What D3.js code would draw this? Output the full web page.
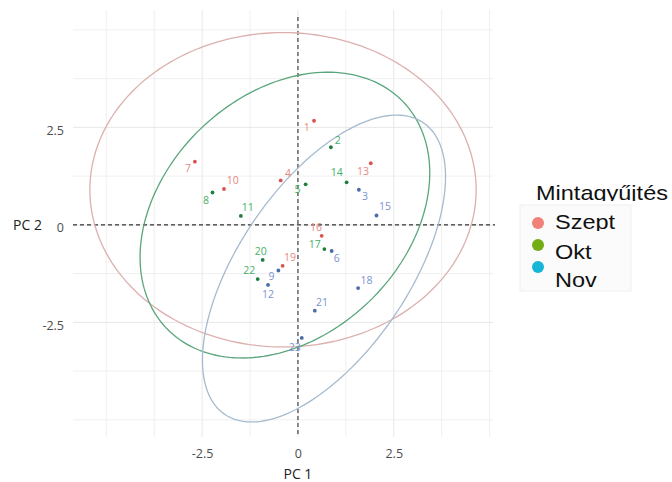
<!DOCTYPE html>
<html>
<head>
<meta charset="utf-8">
<script src="https://cdn.jsdelivr.net/npm/d3@7"></script>
<style>
body{margin:0;background:#fff;}
</style>
</head>
<body>
<div id="grafico"></div>
<script>
const WIDTH = 672;
const HEIGHT = 482;

// PCA scores of the samples
const sampleIds = [1, 4, 7, 10, 13, 16, 19, 2, 5, 8, 11, 14, 17, 20, 22, 3, 6, 9, 12, 15, 18, 21, 23];
const sampleGroup = ["Szept","Szept","Szept","Szept","Szept","Szept","Szept",
    "Okt","Okt","Okt","Okt","Okt","Okt","Okt","Okt",
    "Nov","Nov","Nov","Nov","Nov","Nov","Nov","Nov"];
const pc1 = [0.42, -0.45, -2.69, -1.93, 1.90, 0.62, -0.40,
    0.86, 0.20, -2.23, -1.49, 1.27, 0.69, -0.92, -1.05,
    1.59, 0.88, -0.51, -0.78, 2.05, 1.57, 0.44, 0.10];
const pc2 = [2.67, 1.14, 1.62, 0.92, 1.58, -0.28, -1.05,
    1.99, 1.04, 0.83, 0.23, 1.09, -0.62, -0.90, -1.39,
    0.90, -0.67, -1.17, -1.54, 0.24, -1.62, -2.20, -2.90];
// where the (repelled) number labels ended up
const labelPc1 = [0.23, -0.26, -2.87, -1.70, 1.70, 0.47, -0.21,
    1.04, -0.01, -2.40, -1.31, 1.01, 0.44, -0.97, -1.27,
    1.75, 1.01, -0.69, -0.78, 2.27, 1.79, 0.63, -0.08];
const labelPc2 = [2.49, 1.31, 1.46, 1.13, 1.37, -0.06, -0.83,
    2.18, 0.92, 0.64, 0.46, 1.34, -0.49, -0.68, -1.17,
    0.73, -0.85, -1.33, -1.77, 0.47, -1.41, -1.98, -3.15];

// confidence ellipses per group
const ellipseGroup = ["Szept", "Okt", "Nov"];
const ellipseCx = [-0.39, -0.34, 0.68];
const ellipseCy = [0.90, 0.25, -1.12];
const ellipseA = [5.04, 4.24, 4.55];
const ellipseB = [4.03, 3.12, 2.2];
const ellipseAngle = [0, 42, 55];

const legendCategories = ["Szept", "Okt", "Nov"];
const xTicks = [-2.5, 0, 2.5];
const yTicks = [-2.5, 0, 2.5];
const gridBreaks = [-5, -3.75, -2.5, -1.25, 0, 1.25, 2.5, 3.75, 5];

const pointColor = {Szept:"#d9534f", Okt:"#1f7d3e", Nov:"#4a6aa8"};
const textColor = {Szept:"#e8877d", Okt:"#45b068", Nov:"#7b93cf"};
const ellipseColor = {Szept:"#dcb0ae", Okt:"#5aa67c", Nov:"#a6bbcf"};
const legendColor = {Szept:"#f08078", Okt:"#72ad12", Nov:"#17b6d6"};

let svg = d3.select("#grafico")
    .append("svg")
    .attr("width", WIDTH)
    .attr("height", HEIGHT)
    .style("font-family", "'Open Sans', sans-serif");

let x = d3.scaleLinear().domain([-5.87, 5.09]).range([73, 493]);
let y = d3.scaleLinear().domain([-5.44, 5.51]).range([437, 10]);

// grid
let grid = svg.append("g");
grid.selectAll(".gv")
    .data(gridBreaks)
    .enter()
    .append("line")
    .attr("x1", d => x(d)).attr("x2", d => x(d))
    .attr("y1", y.range()[1]).attr("y2", y.range()[0])
    .style("stroke", d => xTicks.includes(d) ? "#e4e4e4" : "#eeeeee")
    .style("stroke-width", 0.9);
grid.selectAll(".gh")
    .data(gridBreaks)
    .enter()
    .append("line")
    .attr("y1", d => y(d)).attr("y2", d => y(d))
    .attr("x1", x.range()[0]).attr("x2", x.range()[1])
    .style("stroke", d => yTicks.includes(d) ? "#e4e4e4" : "#eeeeee")
    .style("stroke-width", 0.9);

// reference lines through the origin
svg.append("line")
    .attr("x1", x(0)).attr("x2", x(0))
    .attr("y1", y.range()[1] + 7).attr("y2", y.range()[0])
    .style("stroke", "#333").style("stroke-width", 1.1)
    .style("stroke-dasharray", "4,3");
svg.append("line")
    .attr("x1", x.range()[0]).attr("x2", x.range()[1] + 2)
    .attr("y1", y(0)).attr("y2", y(0))
    .style("stroke", "#333").style("stroke-width", 1.1)
    .style("stroke-dasharray", "4,3");

// ellipses
let ellipseLine = d3.line()
    .x(d => x(d[0]))
    .y(d => y(d[1]))
    .curve(d3.curveLinearClosed);

ellipseGroup.forEach((g, i) => {
    let th = ellipseAngle[i] * Math.PI / 180;
    let pts = d3.range(0, 2 * Math.PI, Math.PI / 90).map(t => [
        ellipseCx[i] + ellipseA[i] * Math.cos(th) * Math.cos(t) - ellipseB[i] * Math.sin(th) * Math.sin(t),
        ellipseCy[i] + ellipseA[i] * Math.sin(th) * Math.cos(t) + ellipseB[i] * Math.cos(th) * Math.sin(t)
    ]);
    svg.append("path")
        .attr("d", ellipseLine(pts))
        .style("fill", "none")
        .style("stroke", ellipseColor[g])
        .style("stroke-width", 1.3);
});

// points and labels
let samples = sampleIds.map((id, i) => ({
    id: id, group: sampleGroup[i], pc1: pc1[i], pc2: pc2[i],
    lx: labelPc1[i], ly: labelPc2[i]
}));

svg.selectAll(".pt")
    .data(samples)
    .enter()
    .append("circle")
    .attr("cx", d => x(d.pc1))
    .attr("cy", d => y(d.pc2))
    .attr("r", 1.9)
    .style("fill", d => pointColor[d.group]);

svg.selectAll(".lbl")
    .data(samples)
    .enter()
    .append("text")
    .attr("x", d => x(d.lx))
    .attr("y", d => y(d.ly))
    .attr("text-anchor", "middle")
    .attr("dy", "0.35em")
    .style("font-size", "10.5px")
    .style("fill", d => textColor[d.group])
    .text(d => d.id);

// axes
let xAxis = svg.append("g")
    .attr("transform", "translate(0,446)")
    .call(d3.axisBottom(x).tickValues(xTicks).tickSize(0).tickFormat(d => String(d)));
let yAxis = svg.append("g")
    .attr("transform", "translate(67,3)")
    .call(d3.axisLeft(y).tickValues(yTicks).tickSize(0).tickFormat(d => String(d)));
[xAxis, yAxis].forEach(a => {
    a.select(".domain").remove();
    a.selectAll("text")
        .style("font-family", "'Open Sans', sans-serif")
        .style("font-size", "12.5px")
        .style("fill", "#4d4d4d");
});

svg.append("text")
    .attr("x", x(0)).attr("y", 479)
    .attr("text-anchor", "middle")
    .style("font-size", "14px").style("fill", "#222")
    .text("PC 1");
svg.append("text")
    .attr("x", 13).attr("y", 230)
    .style("font-size", "14px").style("fill", "#222")
    .text("PC 2");

// legend (the title and first entry are cut off at the bottom, as in the source)
let defs = svg.append("defs");
defs.append("clipPath").attr("id", "clipTitle")
    .append("rect").attr("x", 520).attr("y", 170).attr("width", 152).attr("height", 31);
defs.append("clipPath").attr("id", "clipFirst")
    .append("rect").attr("x", 520).attr("y", 205).attr("width", 152).attr("height", 26);

svg.append("g")
    .attr("clip-path", "url(#clipTitle)")
    .append("text")
    .attr("transform", "translate(536,200) scale(1.12,1)")
    .style("font-family", "'Liberation Sans', Arial, sans-serif")
    .style("font-size", "21px")
    .style("fill", "#111")
    .text("Mintagyűjtés");

svg.append("rect")
    .attr("x", 520).attr("y", 205)
    .attr("width", 111).attr("height", 86)
    .style("fill", "#fbfbfb")
    .style("stroke", "#f0f0f0");

let keyY = d3.scalePoint().domain(legendCategories).range([223, 267]);
let textY = {Szept: 229, Okt: 259, Nov: 287};

let keys = svg.selectAll(".key")
    .data(legendCategories)
    .enter()
    .append("g");
keys.append("circle")
    .attr("cx", 538)
    .attr("cy", d => keyY(d))
    .attr("r", 6)
    .style("fill", d => legendColor[d]);
keys.append("g")
    .attr("clip-path", d => d === "Szept" ? "url(#clipFirst)" : null)
    .append("text")
    .attr("transform", d => "translate(555," + textY[d] + ") scale(1.12,1)")
    .style("font-family", "'Liberation Sans', Arial, sans-serif")
    .style("font-size", "21px")
    .style("fill", "#111")
    .text(d => d);
</script>
</body>
</html>
